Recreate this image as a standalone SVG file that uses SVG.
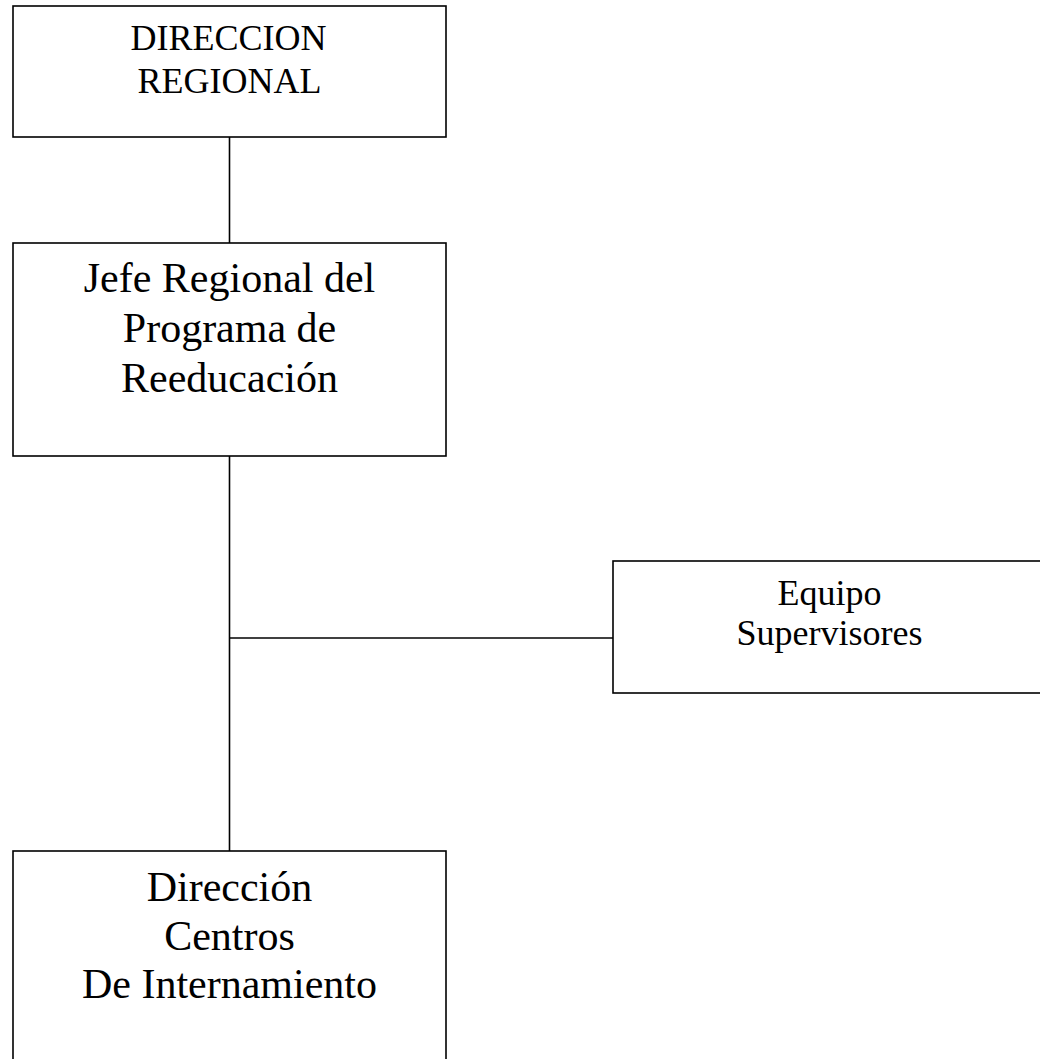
<svg xmlns="http://www.w3.org/2000/svg" width="1040" height="1059" viewBox="0 0 1040 1059">
<style>
.box{fill:#fff;stroke:#000;stroke-width:1.6}
.ln{stroke:#000;stroke-width:1.6;fill:none}
text{font-family:"Liberation Serif","Times New Roman",serif;fill:#000;text-anchor:middle}
.s{font-size:36px}
.l{font-size:42px}
</style>
<rect width="1040" height="1059" fill="#fff"/>
<g id="connectors">
<line class="ln" x1="229.5" y1="137" x2="229.5" y2="243"/>
<line class="ln" x1="229.5" y1="456" x2="229.5" y2="851"/>
<line class="ln" x1="229.5" y1="638" x2="613" y2="638"/>
</g>
<g id="direccion-regional">
<rect class="box" x="13" y="6" width="433" height="131"/>
<text class="s" x="228.5" y="50">DIRECCION</text>
<text class="s" x="229.5" y="93">REGIONAL</text>
</g>
<g id="jefe-regional">
<rect class="box" x="13" y="243" width="433" height="213"/>
<text class="l" x="229.5" y="292">Jefe Regional del</text>
<text class="l" x="229.5" y="342">Programa de</text>
<text class="l" x="229.5" y="392">Reeducación</text>
</g>
<g id="equipo-supervisores">
<rect class="box" x="613" y="561" width="440" height="132"/>
<text class="s" x="829.5" y="605">Equipo</text>
<text class="s" x="829.5" y="645">Supervisores</text>
</g>
<g id="direccion-centros">
<rect class="box" x="13" y="851" width="433" height="240"/>
<text class="l" x="229.5" y="901">Dirección</text>
<text class="l" x="229.5" y="950">Centros</text>
<text class="l" x="229.5" y="998">De Internamiento</text>
</g>
</svg>
